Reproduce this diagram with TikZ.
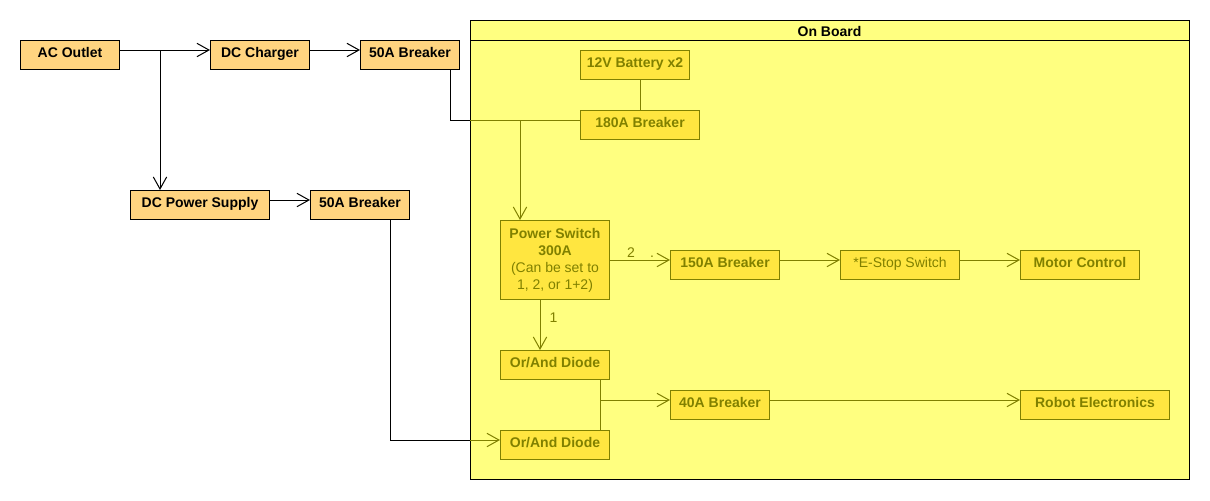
\documentclass[tikz,border=0pt]{standalone}
\usepackage{fontspec}
\setmainfont{Liberation Sans}
\usetikzlibrary{arrows.meta,calc}
\definecolor{outfill}{RGB}{255,212,128}
\definecolor{infill}{RGB}{255,230,64}
\definecolor{olv}{RGB}{128,128,0}
\definecolor{cfill}{RGB}{255,255,128}
\begin{document}
\begin{tikzpicture}[x=0.75pt,y=-0.75pt,
  every node/.style={font=\fontsize{10.5pt}{12.75pt}\selectfont},
  >={Straight Barb[length=9pt,width=10pt]},
  basebox/.style={draw, line width=0.75pt, anchor=north west, inner sep=0pt,
    minimum height=21.75pt, text height=8pt, text depth=4.25pt},
  outbox/.style={basebox, fill=outfill, text=black, font=\fontsize{10.5pt}{12.75pt}\selectfont\bfseries},
  inbox/.style={basebox, fill=infill, draw=olv, text=olv, font=\fontsize{10.5pt}{12.75pt}\selectfont\bfseries},
  inboxreg/.style={inbox, font=\fontsize{10.5pt}{12.75pt}\selectfont},
  container/.style={draw, line width=0.75pt, fill=cfill, anchor=north west, inner sep=0pt},
  lbl/.style={anchor=base, inner sep=0pt, text=olv},
  bline/.style={draw=black, line width=0.75pt},
  barr/.style={bline, ->},
  oline/.style={draw=olv, line width=0.75pt},
  oarr/.style={oline, ->}
]
\useasboundingbox (0,0) rectangle (1210,500);

% container
\node[container, minimum width=539.25pt, minimum height=344.25pt] (ob) at (470,20) {};
\draw[line width=0.75pt] ([yshift=-15pt]ob.north west) -- ([yshift=-15pt]ob.north east);
\node[anchor=base, inner sep=0pt, font=\fontsize{10.5pt}{12.75pt}\selectfont\bfseries] (obt) at (829.5,36.5) {On Board};

% outside nodes
\node[outbox, minimum width=74.25pt] (ac) at (20,40) {AC Outlet};
\node[outbox, minimum width=74.25pt] (dcc) at (210,40) {DC Charger};
\node[outbox, minimum width=74.25pt] (b50a) at (360,40) {50A Breaker};
\node[outbox, minimum width=104.25pt] (dps) at (130,190) {DC Power Supply};
\node[outbox, minimum width=74.25pt] (b50b) at (310,190) {50A Breaker};

% inside nodes
\node[inbox, minimum width=81.75pt] (bat) at (580,50) {12V Battery x2};
\node[inbox, minimum width=89.25pt] (b180) at (580,110) {180A Breaker};
\node[basebox, fill=infill, draw=olv, text=olv, minimum width=81.75pt, minimum height=59.25pt,
  text height=, text depth=, align=center, font=\fontsize{10.5pt}{12.75pt}\selectfont] (ps) at (500,220)
  {\textbf{Power Switch}\\\textbf{300A}\\(Can be set to\\1, 2, or 1+2)};
\node[inbox, minimum width=81.75pt] (b150) at (670,250) {150A Breaker};
\node[inboxreg, minimum width=89.25pt] (estop) at (840,250) {*E-Stop Switch};
\node[inbox, minimum width=89.25pt] (mc) at (1020,250) {Motor Control};
\node[inbox, minimum width=81.75pt] (d1) at (500,350) {Or/And Diode};
\node[inbox, minimum width=81.75pt] (d2) at (500,430) {Or/And Diode};
\node[inbox, minimum width=74.25pt] (b40) at (670,390) {40A Breaker};
\node[inbox, minimum width=111.75pt] (re) at (1020,390) {Robot Electronics};

% helper coordinates
\coordinate (j1) at (160,50);
\coordinate (c1) at (450,120);
\coordinate (j2) at (520,120);
\coordinate (j3) at (540,320);
\coordinate (j4) at (600,400);
\coordinate (c2) at (390,440);
\coordinate (p2) at ([yshift=-7.5pt]b150.north west);

% outside connectors
\draw[barr] ([yshift=-7.5pt]ac.north east) -- ([yshift=-7.5pt]dcc.north west);
\draw[barr] (j1) -- (j1 |- dps.north);
\draw[barr] ([yshift=-7.5pt]dcc.north east) -- ([yshift=-7.5pt]b50a.north west);
\draw[barr] ([yshift=-7.5pt]dps.north east) -- ([yshift=-7.5pt]b50b.north west);
\draw[bline] (b50a.south -| c1) -- (c1) -- (c1 -| ob.west);
\draw[bline] (b50b.south -| c2) -- (c2) -- (c2 -| ob.west);

% inside connectors
\draw[oline] (c1 -| ob.west) -- (c1 -| b180.west);
\draw[oarr] (c2 -| ob.west) -- (c2 -| d2.west);
\draw[oarr] (j2) -- (j2 |- ps.north);
\draw[oline] (bat.south -| b180.north) -- (b180.north);
\draw[oarr] (ps.east |- p2) -- (p2);
\node[lbl] (l2) at (631,257) {2};
\node[lbl] (ldot) at (652,257) {.};
\draw[oarr] ([yshift=-7.5pt]b150.north east) -- ([yshift=-7.5pt]estop.north west);
\draw[oarr] ([yshift=-7.5pt]estop.north east) -- ([yshift=-7.5pt]mc.north west);
\draw[oarr] (ps.south -| j3) -- (d1.north -| j3);
\node[lbl] (l1) at (553.5,322) {1};
\draw[oline] (d1.south -| j4) -- (d2.north -| j4);
\draw[oarr] (j4) -- (j4 -| b40.west);
\draw[oarr] ([yshift=-7.5pt]b40.north east) -- ([yshift=-7.5pt]re.north west);
\end{tikzpicture}
\end{document}
